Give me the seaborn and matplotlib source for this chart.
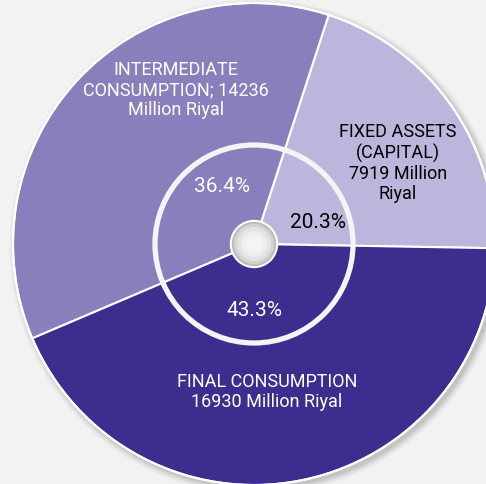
import seaborn as sns
import numpy as np
import matplotlib.pyplot as plt
from matplotlib.patches import Circle

sns.set_theme(style="white")
plt.rcParams['font.family'] = ['Roboto', 'DejaVu Sans']

# data
categories = ["FIXED ASSETS\n(CAPITAL)", "INTERMEDIATE\nCONSUMPTION;", "FINAL CONSUMPTION"]
values = [7919, 14236, 16930]  # Million Riyal
colors = ["#bdb5dc", "#8a7fbc", "#3b2e8e"]
pct_colors = ["black", "white", "white"]

fig = plt.figure(figsize=(4.86, 4.85), dpi=100)
fig.patch.set_facecolor("#f2f2f2")
ax = fig.add_axes([0, 0, 1, 1])
ax.set_facecolor("#f2f2f2")

cx, cy, R = 254, 240, 241

# soft shadow
for i, a in enumerate(np.linspace(0.06, 0.02, 5)):
    ax.add_patch(Circle((cx + 3, cy - 3), R + 1 + i * 1.5, color="black", alpha=a, lw=0, zorder=0))

wedges, _, autotexts = ax.pie(values, colors=colors, startangle=-1, counterclock=True,
                              center=(cx, cy), radius=R, autopct="%.1f%%", pctdistance=0.27,
                              wedgeprops=dict(edgecolor="white", linewidth=1.5),
                              textprops=dict(fontsize=15), frame=True)
# nudge percentage labels the way the original places them
offsets = [(64, 23), (-32, 58), (0, -65)]
for t, c, (dx, dy) in zip(autotexts, pct_colors, offsets):
    t.set_color(c)
    t.set_position((cx + dx, cy + dy))

# outer edge
ax.add_patch(Circle((cx, cy), R, fill=False, ec="white", lw=1.5, zorder=3))
# inner ring
ax.add_patch(Circle((cx, cy), 99, fill=False, ec="#f4f4f4", lw=3.8, zorder=3))
# center button
ax.add_patch(Circle((cx, cy), 23.5, color="white", zorder=4))
ax.add_patch(Circle((cx, cy), 21.5, color="#bdbdbd", zorder=4))
for r, col in zip([20, 17, 13, 9], ["#d4d4d4", "#e3e3e3", "#eeeeee", "#f4f4f4"]):
    ax.add_patch(Circle((cx, cy), r, color=col, lw=0, zorder=4))

lab = dict(fontsize=13, ha="center", va="center", linespacing=1.15)
ax.text(176, 395, categories[1] + " " + str(values[1]) + "\nMillion Riyal", color="white", **lab)
ax.text(398, 322, categories[0] + "\n" + str(values[0]) + " Million\nRiyal", color="black", **lab)
ax.text(267, 93, categories[2] + "\n" + str(values[2]) + " Million Riyal", color="white", **lab)

ax.set_xlim(0, 486)
ax.set_ylim(0, 485)
ax.set_aspect("equal")
ax.axis("off")

fig.savefig("out.png", dpi=100, facecolor=fig.get_facecolor())
